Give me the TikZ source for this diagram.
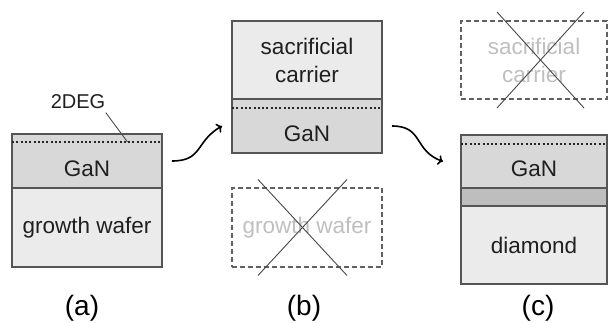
\documentclass[tikz,border=0pt]{standalone}
\usepackage{fontspec}
\setmainfont{Liberation Sans}
\usetikzlibrary{positioning, arrows.meta}
\definecolor{lightfill}{HTML}{EBEBEB}
\definecolor{ganfill}{HTML}{D8D8D8}
\definecolor{bondfill}{HTML}{BEBEBE}
\definecolor{layeredge}{HTML}{555555}
\tikzset{
  layer/.style={draw=layeredge, line width=1.1pt, inner sep=0pt, outer sep=0pt,
    minimum width=150pt, align=center, text=black!88,
    font=\fontsize{22.5}{28}\selectfont},
  gan/.style={layer, fill=ganfill, minimum height=54pt, text height=31pt, text depth=0pt},
  removed/.style={layer, fill=none, draw=black!62, line width=1.3pt, text=black!25,
    dash pattern=on 5pt off 3pt},
  twodeg/.style={draw=black!85, line width=2pt, dash pattern=on 2pt off 2.3pt},
  cross/.style={draw=black!72, line width=0.9pt},
  flow/.style={-{To[length=5pt,width=10pt]}, line width=1.6pt, looseness=1.3},
  caption/.style={font=\fontsize{28}{32}\selectfont},
}

\begin{document}
\begin{tikzpicture}[x=1pt, y=1pt]
  \useasboundingbox (0,0) rectangle (609,323);

  % (a) as grown
  \node[gan, anchor=north west] (ganA) at (12,189) {GaN};
  \node[layer, fill=lightfill, minimum height=79pt, below=0pt of ganA] (waferA) {growth wafer};
  \draw[twodeg] ([yshift=-8pt]ganA.north west) -- coordinate[pos=0.77] (degA) ([yshift=-8pt]ganA.north east);
  \node[font=\fontsize{20}{24}\selectfont, text=black!88] (deg) at (78,221) {2DEG};
  \draw[draw=black!70, line width=0.9pt] ([xshift=-3pt]deg.south east) -- (degA);

  % (b) on the carrier, wafer removed
  \node[layer, fill=lightfill, minimum height=78pt, anchor=north west] (carrierB) at (232,302) {sacrificial\\carrier};
  \node[gan, below=0pt of carrierB] (ganB) {GaN};
  \draw[twodeg] ([yshift=-9pt]ganB.north west) -- ([yshift=-9pt]ganB.north east);
  \node[removed, minimum height=79pt, anchor=north west] (waferB) at (232,135) {growth wafer};
  \draw[cross] ([shift={(-49,48)}]waferB.center) -- ([shift={(40,-48)}]waferB.center);
  \draw[cross] ([shift={(40,48)}]waferB.center) -- ([shift={(-49,-48)}]waferB.center);

  % (c) on diamond, carrier removed
  \node[removed, minimum width=146pt, minimum height=78pt, anchor=north west] (carrierC) at (461,302) {sacrificial\\carrier};
  \draw[cross] ([shift={(-37,48)}]carrierC.center) -- ([shift={(50,-48)}]carrierC.center);
  \draw[cross] ([shift={(50,48)}]carrierC.center) -- ([shift={(-37,-48)}]carrierC.center);
  \node[gan, minimum width=146pt, minimum height=53pt, anchor=north west] (ganC) at (461,188) {GaN};
  \node[layer, fill=bondfill, minimum width=146pt, minimum height=18pt, below=0pt of ganC] (bondC) {};
  \node[layer, fill=lightfill, minimum width=146pt, minimum height=78pt, below=0pt of bondC] (diamondC) {diamond};
  \draw[twodeg] ([yshift=-9pt]ganC.north west) -- ([yshift=-9pt]ganC.north east);

  % process steps
  \draw[flow] ([xshift=10pt]ganA.east) to[out=0, in=210] ([xshift=-10pt]ganB.west);
  \draw[flow] ([xshift=10pt]ganB.east) to[out=0, in=160] ([xshift=-18pt]ganC.west);

  \node[caption] (capA) at (82,15) {(a)};
  \node[caption] (capB) at (304,15) {(b)};
  \node[caption] (capC) at (538,15) {(c)};
\end{tikzpicture}
\end{document}
